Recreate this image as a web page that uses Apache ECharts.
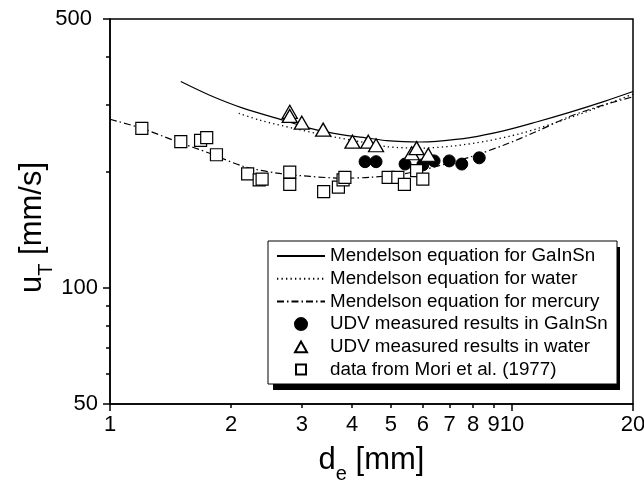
<!DOCTYPE html>
<html>
<head>
<meta charset="utf-8">
<script src="https://cdn.jsdelivr.net/npm/echarts@6/dist/echarts.min.js"></script>
<style>html,body{margin:0;padding:0;background:#fff}#c{width:644px;height:498px}</style>
</head>
<body>
<div id="c"></div>
<script>
// ---- data ----
const xTickLabels = [1, 2, 3, 4, 5, 6, 7, 8, 9, 10, 20];
const xMajorTicks = [1, 10, 20];
const xMinorTicks = [2, 3, 4, 5, 6, 7, 8, 9];
const yTickLabels = [50, 100, 500];
const yMinorTicks = [60, 70, 80, 90, 200, 300, 400];

const solidX = [1.50, 1.77, 2.15, 2.70, 3.15, 3.80, 4.43, 4.88, 5.37, 5.90, 6.49, 7.86, 9.52, 11.5, 13.9, 16.9, 20];
const solidY = [344, 317, 293, 273, 260, 250, 245, 241.5, 240, 239.6, 240.6, 246, 256, 270, 286, 305, 324];
const dottedX = [2.09, 2.36, 2.86, 3.46, 4.19, 4.88, 5.90, 7.15, 8.65, 10.5, 12.7, 15.3, 20];
const dottedY = [284.5, 273, 260, 249, 240, 233, 231, 234, 241, 252, 268, 287, 319];
const dashX = [1.0, 1.20, 1.47, 1.77, 2.15, 2.60, 3.15, 3.80, 4.43, 5.37, 6.49, 7.86, 9.52, 11.5, 13.9, 16.9, 20];
const dashY = [274.5, 260, 240, 224, 207, 199, 195, 193, 194, 198, 207, 219, 235, 255, 279, 299, 314];

const gainsnX = [4.31, 4.59, 5.42, 6.00, 6.40, 6.98, 7.50, 8.29];
const gainsnY = [213, 213, 210, 209, 214, 214, 210, 218];
const waterX = [2.80, 2.80, 3.00, 3.39, 4.01, 4.39, 4.59, 5.63, 5.79, 6.19];
const waterY = [287, 280, 269, 258, 240, 240, 235, 224, 231, 222];
const moriX = [1.20, 1.50, 1.68, 1.74, 1.84, 2.20, 2.35, 2.39, 2.80, 2.80, 3.40, 3.70, 3.80, 3.84, 4.92, 5.20, 5.40, 5.79, 6.00];
const moriY = [260, 240, 242, 246, 222, 198, 191, 192, 200, 186, 178, 183, 191, 194, 194, 194, 186, 202, 192];

const names = [
  'Mendelson equation for GaInSn',
  'Mendelson equation for water',
  'Mendelson equation for mercury',
  'UDV measured results in GaInSn',
  'UDV measured results in water',
  'data from Mori et al. (1977)'
];

const zip = (a, b) => a.map((v, i) => [v, b[i]]);
const FONT = 'Liberation Sans, Arial, Helvetica, sans-serif';
const NAMESIZE = 31;
const SUBSIZE = 20;

const chart = echarts.init(document.getElementById('c'), null, {renderer: 'canvas'});

const baseX = {type: 'log', logBase: 10, min: 1, max: 20, gridIndex: 0, position: 'bottom'};
const baseY = {type: 'log', logBase: 10, min: 50, max: 500, gridIndex: 0, position: 'left'};

const nameRich = {
  m: {fontSize: NAMESIZE, fontFamily: FONT, color: '#000', verticalAlign: 'top', lineHeight: 33},
  s: {fontSize: SUBSIZE, fontFamily: FONT, color: '#000', verticalAlign: 'top', lineHeight: 22, padding: [19, 0, 0, 0]}
};

const hiddenIcon = {color: 'rgba(0,0,0,0)', borderColor: 'rgba(0,0,0,0)', borderWidth: 0};
// legend icons drawn in a 48x12 box so they are not stretched
const triIcon = 'path://M0,0M48,12M18,11.5L24,0.8L30,11.5Z';
const rectIcon = 'path://M0,0M48,12M19,1L29,1L29,11L19,11Z';

const option = {
  backgroundColor: '#fff',
  animation: false,
  grid: {
    left: 110, top: 19, width: 523, height: 385,
    show: true, borderColor: '#000', borderWidth: 1.5,
    outerBoundsMode: 'none'
  },
  xAxis: [
    Object.assign({}, baseX, {
      axisLine: {lineStyle: {color: '#000', width: 1.5}},
      axisTick: {show: true, inside: false, length: 7, lineStyle: {color: '#000', width: 1.5}, customValues: xMajorTicks},
      axisLabel: {show: true, customValues: xTickLabels, interval: 0, margin: 10, color: '#000', fontSize: 22, fontFamily: FONT, hideOverlap: false},
      splitLine: {show: false},
      name: '{m|d}{s|e}{m| [mm]}',
      nameLocation: 'middle',
      nameGap: 41,
      nameTextStyle: {color: '#000', fontFamily: FONT, fontSize: NAMESIZE, rich: nameRich}
    }),
    Object.assign({}, baseX, {
      axisLine: {show: false},
      axisTick: {show: true, inside: false, length: 4, lineStyle: {color: '#000', width: 1.5}, customValues: xMinorTicks},
      axisLabel: {show: false},
      splitLine: {show: false}
    })
  ],
  yAxis: [
    Object.assign({}, baseY, {
      axisLine: {lineStyle: {color: '#000', width: 1.5}},
      axisTick: {show: true, inside: false, length: 7, lineStyle: {color: '#000', width: 1.5}, customValues: yTickLabels},
      axisLabel: {
        show: true, customValues: yTickLabels, margin: 12, color: '#000', fontSize: 22, fontFamily: FONT,
        formatter: (v) => (Math.round(v) === 500 ? '{p|500}' : String(Math.round(v))),
        rich: {p: {fontSize: 22, fontFamily: FONT, color: '#000', padding: [0, 6, 0, 0]}}
      },
      splitLine: {show: false},
      name: '{m|u}{s|T}{m| [mm/s]}',
      nameLocation: 'middle',
      nameGap: 60,
      nameMoveOverlap: false,
      nameRotate: 90,
      nameTextStyle: {color: '#000', fontFamily: FONT, fontSize: NAMESIZE, rich: nameRich, padding: [0, 32, 0, 0]}
    }),
    Object.assign({}, baseY, {
      axisLine: {show: false},
      axisTick: {show: true, inside: false, length: 4, lineStyle: {color: '#000', width: 1.5}, customValues: yMinorTicks},
      axisLabel: {show: false},
      splitLine: {show: false}
    })
  ],
  legend: {
    orient: 'vertical',
    left: 276, top: 246, padding: 0,
    itemWidth: 48, itemHeight: 12, itemGap: 2.7,
    textStyle: {color: '#000', fontSize: 18.8, fontFamily: FONT, lineHeight: 20},
    data: [
      {name: names[0], itemStyle: hiddenIcon},
      {name: names[1], itemStyle: hiddenIcon},
      {name: names[2], itemStyle: hiddenIcon},
      {name: names[3]},
      {name: names[4], icon: triIcon},
      {name: names[5], icon: rectIcon}
    ],
    selectedMode: false,
    z: 10
  },
  graphic: [
    {type: 'rect', z: 5, z2: 0, shape: {x: 273, y: 247, width: 347, height: 143}, style: {fill: '#000'}},
    {type: 'rect', z: 5, z2: 1, shape: {x: 268, y: 241, width: 349, height: 143}, style: {fill: '#fff', stroke: '#000', lineWidth: 1}}
  ],
  series: [
    {
      name: names[0], type: 'line', data: zip(solidX, solidY), smooth: 0.3,
      symbol: 'none', showSymbol: false,
      lineStyle: {color: '#000', width: 1.2, type: 'solid'}, itemStyle: {color: '#000'}, z: 2
    },
    {
      name: names[1], type: 'line', data: zip(dottedX, dottedY), smooth: 0.3,
      symbol: 'none', showSymbol: false,
      lineStyle: {color: '#000', width: 1.3, type: [1.3, 3.2]}, itemStyle: {color: '#000'}, z: 2
    },
    {
      name: names[2], type: 'line', data: zip(dashX, dashY), smooth: 0.3,
      symbol: 'none', showSymbol: false,
      lineStyle: {color: '#000', width: 1.2, type: [7, 3, 1.5, 3]}, itemStyle: {color: '#000'}, z: 2
    },
    {
      name: names[3], type: 'scatter', data: zip(gainsnX, gainsnY),
      symbol: 'circle', symbolSize: 12,
      itemStyle: {color: '#000', borderColor: '#000', borderWidth: 1, opacity: 1}, z: 3
    },
    {
      name: names[4], type: 'scatter', data: zip(waterX, waterY),
      symbol: 'triangle', symbolSize: [15, 13],
      itemStyle: {color: '#fff', borderColor: '#000', borderWidth: 1.3, opacity: 1}, z: 3
    },
    {
      name: names[5], type: 'scatter', data: zip(moriX, moriY),
      symbol: 'rect', symbolSize: 12,
      itemStyle: {color: '#fff', borderColor: '#000', borderWidth: 1.2, opacity: 1}, z: 3
    }
  ]
};
chart.setOption(option);
</script>
</body>
</html>
